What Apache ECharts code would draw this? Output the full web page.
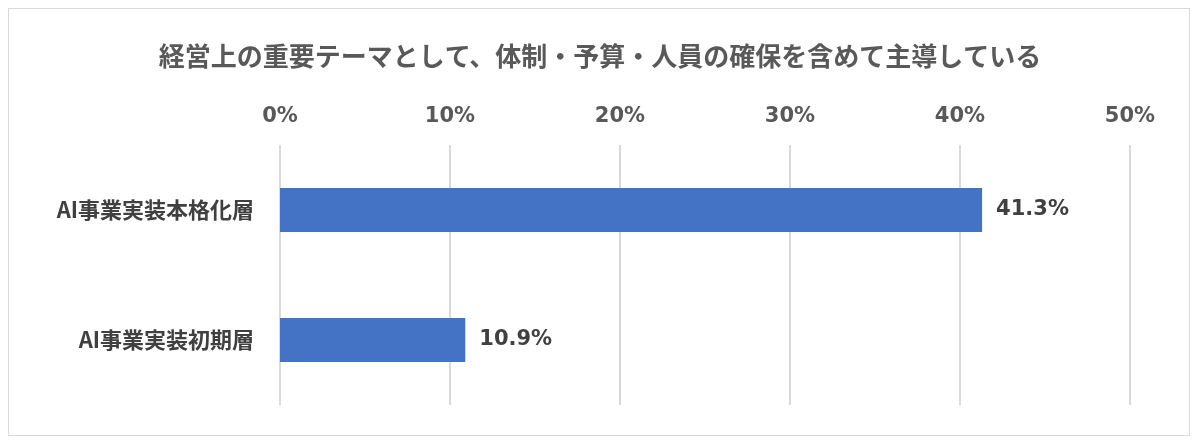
<!DOCTYPE html>
<html><head><meta charset="utf-8">
<script src="https://cdn.jsdelivr.net/npm/echarts@6/dist/echarts.min.js"></script>
<style>html,body{margin:0;padding:0;background:#fff}#c{width:1200px;height:446px;}
#f{position:absolute;left:8px;top:8px;width:1182px;height:428px;border:1px solid #d9d9d9;box-sizing:border-box;pointer-events:none}</style>
</head><body><div id="c"></div><div id="f"></div>
<script>
const titleText = '経営上の重要テーマとして、体制・予算・人員の確保を含めて主導している';
const categories = ['AI事業実装本格化層', 'AI事業実装初期層'];
const values = [41.3, 10.9];
const ticks = [0, 10, 20, 30, 40, 50];
const ff = '"Noto Sans CJK JP","Noto Sans",sans-serif';
const nf = '"DejaVu Sans","Noto Sans CJK JP",sans-serif';
const chart = echarts.init(document.getElementById('c'));
chart.setOption({
  animation:false,
  title:{text:titleText,left:'center',top:38,textStyle:{fontFamily:ff,fontSize:26,fontWeight:'bold',color:'#595959'}},
  grid:{left:280,right:70,top:145,bottom:41},
  xAxis:{type:'value',position:'top',min:ticks[0],max:ticks[ticks.length-1],interval:10,
    axisLabel:{formatter:'{value}%',fontFamily:nf,fontSize:21,fontWeight:'bold',color:'#595959',margin:18},
    splitLine:{lineStyle:{color:'#d9d9d9',width:2}},axisLine:{show:false},axisTick:{show:false}},
  yAxis:{type:'category',data:categories,inverse:true,
    axisLabel:{fontFamily:ff,fontSize:22,fontWeight:'bold',color:'#404040',margin:26},
    axisLine:{show:false},axisTick:{show:false}},
  series:[{type:'bar',data:values,barWidth:44,itemStyle:{color:'#4472C4'},
    label:{show:true,position:'right',distance:14,formatter:p=>p.value.toFixed(1)+'%',
      fontFamily:nf,fontSize:21,fontWeight:'bold',color:'#404040'}}]
});
</script></body></html>
